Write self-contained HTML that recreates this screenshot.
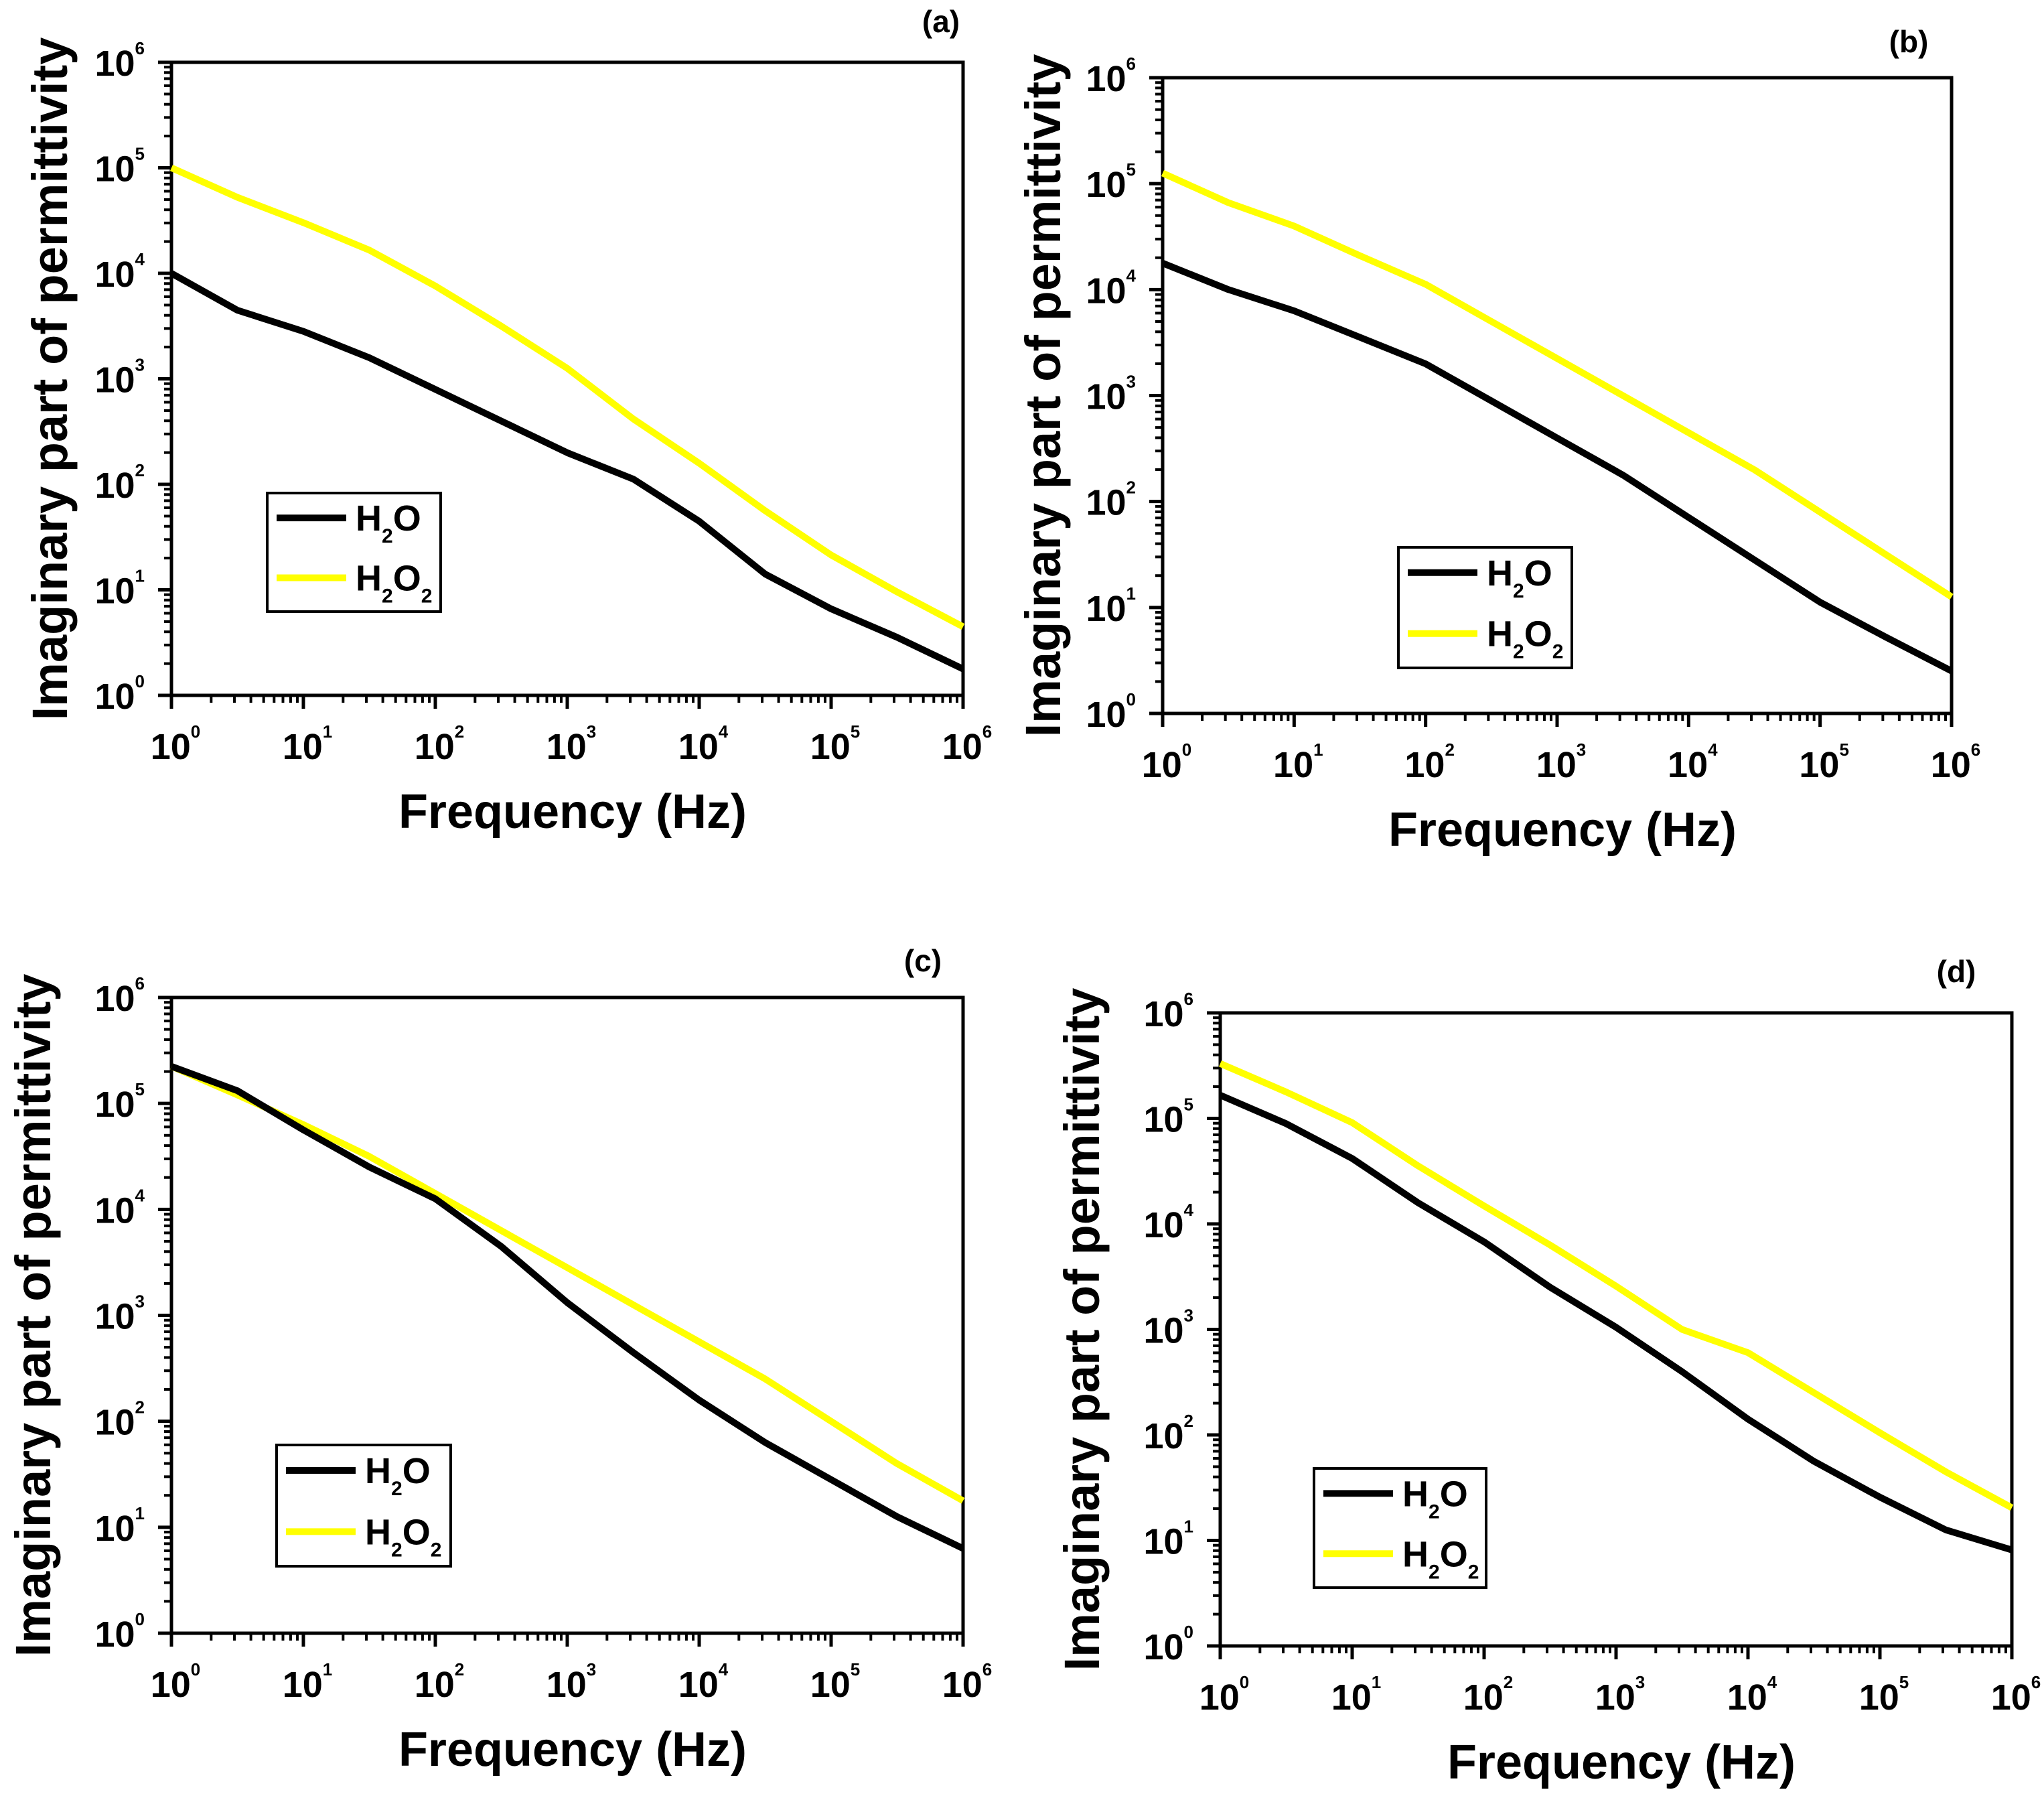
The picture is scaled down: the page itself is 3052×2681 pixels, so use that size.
<!DOCTYPE html>
<html><head><meta charset="utf-8"><style>
html,body{margin:0;padding:0;background:#fff;}
svg{display:block;font-family:"Liberation Sans",Arial,sans-serif;}
</style></head>
<body>
<svg id="fig" width="3052" height="2681" viewBox="0 0 3052 2681" xmlns="http://www.w3.org/2000/svg"></svg>
<script>
const xDecades = [0,0.5,1,1.5,2,2.5,3,3.5,4,4.5,5,5.5,6];
const tickExps = [0,1,2,3,4,5,6];
const panelLabels = ["(a)","(b)","(c)","(d)"];
const seriesNames = ["H2O","H2O2"];
const aH2O  = [4.0,3.65,3.45,3.2,2.9,2.6,2.3,2.05,1.65,1.15,0.82,0.55,0.25];
const aH2O2 = [5.0,4.72,4.48,4.22,3.88,3.5,3.1,2.62,2.2,1.75,1.33,0.98,0.65];
const bH2O  = [4.25,4.0,3.8,3.55,3.3,2.95,2.6,2.25,1.85,1.45,1.05,0.72,0.4];
const bH2O2 = [5.1,4.82,4.6,4.32,4.05,3.7,3.35,3.0,2.65,2.3,1.9,1.5,1.1];
const cH2O  = [5.35,5.12,4.75,4.4,4.1,3.65,3.12,2.65,2.2,1.8,1.45,1.1,0.8];
const cH2O2 = [5.35,5.08,4.8,4.5,4.15,3.8,3.45,3.1,2.75,2.4,2.0,1.6,1.25];
const dH2O  = [5.22,4.95,4.62,4.2,3.83,3.4,3.02,2.6,2.15,1.75,1.41,1.1,0.91];
const dH2O2 = [5.52,5.25,4.96,4.55,4.17,3.8,3.41,3.0,2.78,2.4,2.02,1.65,1.31];
const panelSeries = [[aH2O,aH2O2],[bH2O,bH2O2],[cH2O,cH2O2],[dH2O,dH2O2]];

const boxes = [
 {L:256,T:93,R:1438,B:1038, lg:[399,736,259,177], lab:[1405,48], yt:74},
 {L:1736,T:116,R:2914,B:1065, lg:[2088,817,259,180], lab:[2850,78], yt:1557},
 {L:256,T:1489,R:1438,B:2438, lg:[413,2157,260,181], lab:[1378,1450], yt:49},
 {L:1822,T:1512,R:3004,B:2457, lg:[1962,2192,257,178], lab:[2921,1466], yt:1615}
];
const NS="http://www.w3.org/2000/svg";
const svg=document.getElementById('fig');
function mk(tag,attrs,parent){const e=document.createElementNS(NS,tag);for(const k in attrs)e.setAttribute(k,attrs[k]);(parent||svg).appendChild(e);return e;}

boxes.forEach((b,pi)=>{
  const g=mk('g',{});
  
  
  const xs=v=>b.L+(b.R-b.L)*v/6;
  const ys=v=>b.B-(b.B-b.T)*v/6;
  const fr=mk('rect',{x:b.L,y:b.T,width:b.R-b.L,height:b.B-b.T,fill:'none',stroke:'#000','stroke-width':5},g);
  
  
  tickExps.forEach(e=>{
    mk('line',{x1:xs(e),y1:b.B,x2:xs(e),y2:b.B+20,stroke:'#000','stroke-width':5},g);
    mk('line',{x1:b.L,y1:ys(e),x2:b.L-20,y2:ys(e),stroke:'#000','stroke-width':5},g);
    if(e<6){for(let m=2;m<10;m++){const f=e+Math.log10(m);
      mk('line',{x1:xs(f),y1:b.B,x2:xs(f),y2:b.B+11,stroke:'#000','stroke-width':4},g);
      mk('line',{x1:b.L,y1:ys(f),x2:b.L-11,y2:ys(f),stroke:'#000','stroke-width':4},g);}}
    const xt=mk('text',{x:xs(e)+6,y:b.B+95,'font-size':54,'font-weight':'bold','text-anchor':'middle',fill:'#000'},g);
    
    
    xt.innerHTML='10<tspan font-size="26" dy="-32">'+e+'</tspan>';
    const yt=mk('text',{x:b.L-40,y:ys(e)+20,'font-size':54,'font-weight':'bold','text-anchor':'end',fill:'#000'},g);
    
    
    yt.innerHTML='10<tspan font-size="26" dy="-32">'+e+'</tspan>';
  });
  const cols=['#000','#ffff00'];
  [1,0].forEach(si=>{
    const vals=panelSeries[pi][si];
    const d=vals.map((v,i)=>(i?'L':'M')+xs(xDecades[i]).toFixed(1)+' '+ys(v).toFixed(1)).join(' ');
    const p=mk('path',{d:d,fill:'none',stroke:cols[si],'stroke-width':10,'stroke-linejoin':'round'},g);
    
    
  });
  const [lx,ly,lw,lh]=b.lg;
  const lg=mk('g',{},g);
  
  
  mk('rect',{x:lx,y:ly,width:lw,height:lh,fill:'#fff',stroke:'#000','stroke-width':4},lg);
  [0,1].forEach(si=>{
    const cy=ly+(si?lh*0.715:lh*0.21);
    mk('line',{x1:lx+14,y1:cy,x2:lx+118,y2:cy,stroke:cols[si],'stroke-width':10},lg);
    const t=mk('text',{x:lx+132,y:cy+19,'font-size':54,'font-weight':'bold',fill:'#000'},lg);
    
    
    t.innerHTML=si?'H<tspan font-size="30" dy="18">2</tspan><tspan dy="-18">O</tspan><tspan font-size="30" dy="18">2</tspan>':'H<tspan font-size="30" dy="18">2</tspan><tspan dy="-18">O</tspan>';
  });
  const pl=mk('text',{x:b.lab[0],y:b.lab[1],'font-size':46,'font-weight':'bold','text-anchor':'middle',fill:'#000'},g);
  
  
  pl.textContent=panelLabels[pi];
  const cx=(b.L+b.R)/2+8;
  const xt=mk('text',{x:cx,y:b.B+198,'font-size':72,'font-weight':'bold','text-anchor':'middle',fill:'#000'},g);
  
  
  xt.textContent='Frequency (Hz)';
  const cy=(b.T+b.B)/2;
  const yt=mk('text',{x:0,y:0,'font-size':74,'font-weight':'bold','text-anchor':'middle',fill:'#000',transform:'translate('+(b.yt+26)+','+cy+') rotate(-90)'},g);
  
  
  yt.textContent='Imaginary part of permittivity';
});
</script>
</body></html>
